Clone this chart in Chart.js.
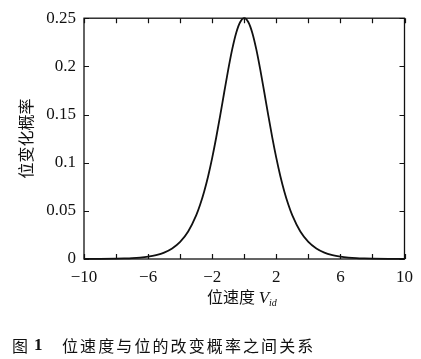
<!DOCTYPE html>
<html>
<head>
<meta charset="utf-8">
<script src="https://cdn.jsdelivr.net/npm/chart.js@4.4.1/dist/chart.umd.min.js"></script>
<style>
  html, body { margin: 0; padding: 0; background: #fff; }
  #wrap { position: relative; width: 421px; height: 359px; overflow: hidden; }
  canvas { position: absolute; left: 0; top: 0; }
  .xt { position: absolute; left: 0; width: 484px; top: 286px; text-align: center;
        font-family: "Noto Sans CJK SC", sans-serif; font-size: 16px; color: #111; line-height: 20px; }
  .xt i { font-family: "Liberation Serif", serif; font-size: 17px; }
  .xt sub { font-family: "Liberation Serif", serif; font-style: italic; font-size: 10px; vertical-align: -3px; }
  .cap { position: absolute; top: 335px; font-family: "Noto Sans CJK SC", sans-serif;
         font-size: 16px; color: #111; line-height: 20px; white-space: nowrap; }
  .cap.n { font-family: "Liberation Serif", serif; font-weight: bold; font-size: 17px; }
  .cap.t { letter-spacing: 2.1px; }
</style>
</head>
<body>
<div id="wrap">
  <canvas id="c" width="421" height="359"></canvas>
  <div class="xt">位速度 <i>V</i><sub>id</sub></div>
  <div class="cap" style="left:12px">图</div>
  <div class="cap n" style="left:34px">1</div>
  <div class="cap t" style="left:62px">位速度与位的改变概率之间关系</div>
</div>
<script>
// Data
const velocity = [-10, -9, -8, -7.5, -7, -6.5, -6, -5.5, -5, -4.5, -4, -3.5, -3, -2.75, -2.5, -2.25, -2, -1.75, -1.5, -1.25, -1, -0.75, -0.5, -0.25, 0,
                  0.25, 0.5, 0.75, 1, 1.25, 1.5, 1.75, 2, 2.25, 2.5, 2.75, 3, 3.5, 4, 4.5, 5, 5.5, 6, 6.5, 7, 7.5, 8, 9, 10];
const probability = [0.00005, 0.0001, 0.0003, 0.00055, 0.0009, 0.0015, 0.0025, 0.0041, 0.0066, 0.0109, 0.0177, 0.0285, 0.0452, 0.0565, 0.0701, 0.0862, 0.1050, 0.1261, 0.1491, 0.1731, 0.1966, 0.2179, 0.2350, 0.2461, 0.25,
                     0.2461, 0.2350, 0.2179, 0.1966, 0.1731, 0.1491, 0.1261, 0.1050, 0.0862, 0.0701, 0.0565, 0.0452, 0.0285, 0.0177, 0.0109, 0.0066, 0.0041, 0.0025, 0.0015, 0.0009, 0.00055, 0.0003, 0.0001, 0.00005];
const xTickLabels = [-10, -6, -2, 2, 6, 10];
const yTickLabels = [0, 0.05, 0.1, 0.15, 0.2, 0.25];
const yTitle = '位变化概率';

const points = velocity.map((v, i) => ({ x: v, y: probability[i] }));
const serif = '"Liberation Serif", "Times New Roman", serif';

const framePlugin = {
  id: 'frame',
  afterDatasetsDraw(chart) {
    const { ctx, chartArea: a, scales: { x, y } } = chart;
    ctx.save();
    ctx.strokeStyle = '#111';
    ctx.lineWidth = 1.3;
    ctx.strokeRect(a.left, a.top, a.right - a.left, a.bottom - a.top);
    ctx.lineWidth = 1.2;
    const L = 5;
    ctx.beginPath();
    x.ticks.forEach(t => {
      const px = Math.round(x.getPixelForValue(t.value)) + 0.5;
      ctx.moveTo(px, a.bottom); ctx.lineTo(px, a.bottom - L);
      ctx.moveTo(px, a.top); ctx.lineTo(px, a.top + L);
    });
    y.ticks.forEach(t => {
      const py = Math.round(y.getPixelForValue(t.value)) + 0.5;
      ctx.moveTo(a.left, py); ctx.lineTo(a.left + L, py);
      ctx.moveTo(a.right, py); ctx.lineTo(a.right - L, py);
    });
    ctx.stroke();
    ctx.restore();
  }
};

new Chart(document.getElementById('c'), {
  type: 'line',
  data: {
    datasets: [{
      data: points,
      borderColor: '#111',
      borderWidth: 1.8,
      pointRadius: 0,
      fill: false,
      tension: 0.4,
      cubicInterpolationMode: 'monotone',
      clip: false
    }]
  },
  options: {
    responsive: false,
    devicePixelRatio: 1,
    animation: false,
    layout: { padding: { left: 0, top: 9, right: 16, bottom: 0 } },
    plugins: { legend: { display: false }, tooltip: { enabled: false } },
    scales: {
      x: {
        type: 'linear',
        min: -10, max: 10,
        grid: { display: false, drawTicks: false },
        border: { display: false },
        afterFit(s) { s.height = 100; },
        ticks: {
          stepSize: 2,
          autoSkip: false,
          maxRotation: 0,
          padding: 8,
          color: '#111',
          font: { family: serif, size: 17 },
          callback(v) {
            if (!xTickLabels.includes(v)) return '';
            return v < 0 ? '\u2212' + Math.abs(v) : String(v);
          }
        }
      },
      y: {
        min: 0, max: 0.25,
        grid: { display: false, drawTicks: false },
        border: { display: false },
        afterFit(s) { s.width = 84; },
        title: {
          display: true,
          text: yTitle,
          color: '#111',
          font: { family: '"Noto Sans CJK SC", sans-serif', size: 16 },
          padding: { top: 16, bottom: 0 }
        },
        ticks: {
          stepSize: 0.05,
          padding: 8,
          color: '#111',
          font: { family: serif, size: 17 },
          callback(v) {
            const r = Math.round(v * 100) / 100;
            const m = yTickLabels.find(t => Math.abs(t - r) < 1e-9);
            return m === undefined ? '' : String(m);
          }
        }
      }
    }
  },
  plugins: [framePlugin]
});
</script>
</body>
</html>
